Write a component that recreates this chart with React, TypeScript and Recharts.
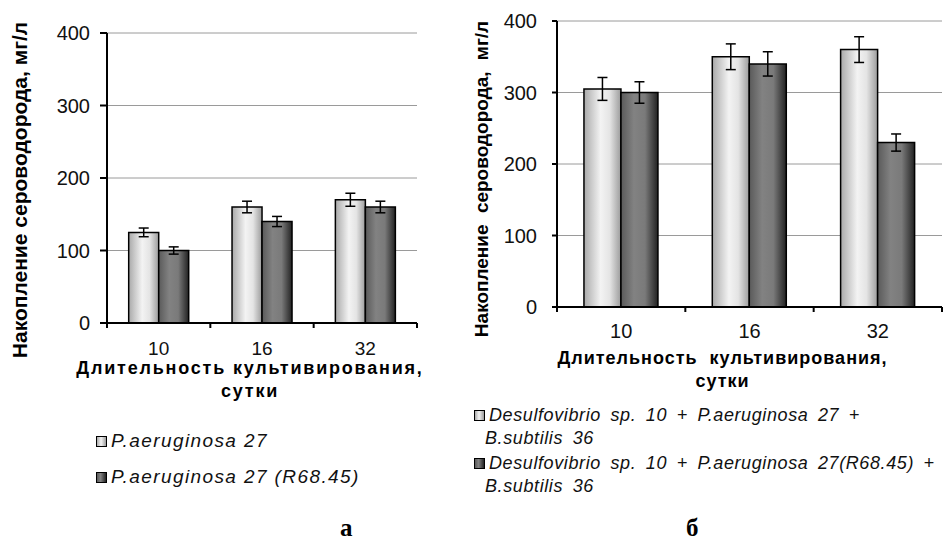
import React from 'react';
import { BarChart, Bar, XAxis, YAxis, CartesianGrid, ErrorBar, Label } from 'recharts';

const days = ['10', '16', '32'];
const yTicks = [0, 100, 200, 300, 400];

const leftNames = ['P.aeruginosa 27', 'P.aeruginosa 27 (R68.45)'];
const leftA = [125, 160, 170];
const leftAErr = [6, 8, 9];
const leftB = [100, 140, 160];
const leftBErr = [5, 7, 8];

const rightNames = [
  ['Desulfovibrio sp. 10 + P.aeruginosa 27 +', 'B.subtilis 36'],
  ['Desulfovibrio sp. 10 + P.aeruginosa 27(R68.45) +', 'B.subtilis 36'],
];
const rightA = [305, 350, 360];
const rightAErr = [16, 18, 18];
const rightB = [300, 340, 230];
const rightBErr = [15, 17, 12];

const yTitle = 'Накопление сероводорода, мг/л';
const xTitle1 = 'Длительность культивирования,';
const xTitle2 = 'сутки';
const captions = ['а', 'б'];

const leftData = days.map((d, i) => ({ day: d, a: leftA[i], ae: leftAErr[i], b: leftB[i], be: leftBErr[i] }));
const rightData = days.map((d, i) => ({ day: d, a: rightA[i], ae: rightAErr[i], b: rightB[i], be: rightBErr[i] }));

const FONT = '"Liberation Sans", Arial, sans-serif';

const Defs = ({ id }: { id: string }) => (
  <defs>
    <linearGradient id={`light-${id}`} x1="0" y1="0" x2="1" y2="0">
      <stop offset="0%" stopColor="#a9a9a9" />
      <stop offset="45%" stopColor="#f3f3f3" />
      <stop offset="70%" stopColor="#e4e4e4" />
      <stop offset="100%" stopColor="#9c9c9c" />
    </linearGradient>
    <linearGradient id={`dark-${id}`} x1="0" y1="0" x2="1" y2="0">
      <stop offset="0%" stopColor="#5a5a5a" />
      <stop offset="35%" stopColor="#828282" />
      <stop offset="65%" stopColor="#7a7a7a" />
      <stop offset="100%" stopColor="#222222" />
    </linearGradient>
  </defs>
);

const makeTick = (baselineDy: number, size: number) => (props: any) => {
  const { x, y, payload, index, width, visibleTicksCount } = props;
  const n = visibleTicksCount || 3;
  const bw = width / n;
  return (
    <g>
      <line x1={x - bw / 2} y1={y} x2={x - bw / 2} y2={y + 5} stroke="#000" strokeWidth={2} />
      {index === n - 1 && <line x1={x + bw / 2} y1={y} x2={x + bw / 2} y2={y + 5} stroke="#000" strokeWidth={2} />}
      <text x={x} y={y + baselineDy} textAnchor="middle" fontFamily={FONT} fontSize={size} fill="#111">
        {payload.value}
      </text>
    </g>
  );
};

const XTitle = (dx: number, d1: number, d2: number, letterSpacing: number, wordSpacing: number) => (props: any) => {
  const vb = props.viewBox || { x: 0, y: 0, width: 0 };
  const cx = vb.x + vb.width / 2 + dx;
  return (
    <text textAnchor="middle" fontFamily={FONT} fontSize={18} fontWeight="bold" fill="#000" letterSpacing={letterSpacing} wordSpacing={wordSpacing}>
      <tspan x={cx} y={vb.y + d1}>{xTitle1}</tspan>
      <tspan x={cx} y={vb.y + d2}>{xTitle2}</tspan>
    </text>
  );
};

const YTitle = (bx: number, cy: number, size: number, wordSpacing: number) => () => (
  <text
    transform={`translate(${bx},${cy}) rotate(-90)`}
    textAnchor="middle"
    fontFamily={FONT}
    fontSize={size}
    fontWeight="bold"
    fill="#000"
    wordSpacing={wordSpacing}
  >
    {yTitle}
  </text>
);

const LegendSwatch = ({ dark }: { dark: boolean }) => (
  <span
    style={{
      display: 'inline-block',
      width: 9,
      height: 9,
      border: '1.5px solid #000',
      background: dark
        ? 'linear-gradient(to right, #5a5a5a, #828282 40%, #222)'
        : 'linear-gradient(to right, #aaa, #f3f3f3 45%, #9c9c9c)',
      marginRight: 4,
      verticalAlign: 'baseline',
    }}
  />
);

export default function App() {
  return (
    <div style={{ position: 'absolute', left: 0, top: 0, width: 951, height: 546, background: '#fff', fontFamily: FONT }}>
      <div style={{ position: 'absolute', left: 0, top: 0 }}>
        <BarChart width={440} height={405} data={leftData} margin={{ top: 33, right: 23, left: 0, bottom: 0 }} barCategoryGap="21%" barGap={0}>
          <Defs id="l" />
          <CartesianGrid vertical={false} stroke="#9a9a9a" strokeWidth={1} />
          <XAxis
            dataKey="day"
            height={82}
            axisLine={{ stroke: '#000', strokeWidth: 2 }}
            tickLine={false}
            tickSize={0}
            tickMargin={0}
            tick={makeTick(32, 19)}
            interval={0}
          >
            <Label content={XTitle(-12, 51, 74, 1.8, 0)} />
          </XAxis>
          <YAxis
            width={107}
            domain={[0, 400]}
            ticks={yTicks}
            axisLine={{ stroke: '#000', strokeWidth: 2 }}
            tickLine={{ stroke: '#000', strokeWidth: 2 }}
            tickSize={7}
            tickMargin={10}
            tick={{ fontFamily: FONT, fontSize: 20, fill: '#111' }}
          >
            <Label content={YTitle(27, 190, 21, 0)} />
          </YAxis>
          <Bar dataKey="a" fill="url(#light-l)" stroke="#000" strokeWidth={1.5} isAnimationActive={false}>
            <ErrorBar dataKey="ae" width={5} stroke="#000" strokeWidth={1.5} />
          </Bar>
          <Bar dataKey="b" fill="url(#dark-l)" stroke="#000" strokeWidth={1.5} isAnimationActive={false}>
            <ErrorBar dataKey="be" width={5} stroke="#000" strokeWidth={1.5} />
          </Bar>
        </BarChart>
      </div>

      <div style={{ position: 'absolute', left: 440, top: 0 }}>
        <BarChart width={511} height={395} data={rightData} margin={{ top: 21, right: 9, left: 0, bottom: 0 }} barCategoryGap="21%" barGap={0}>
          <Defs id="r" />
          <CartesianGrid vertical={false} stroke="#9a9a9a" strokeWidth={1} />
          <XAxis
            dataKey="day"
            height={88}
            axisLine={{ stroke: '#000', strokeWidth: 2 }}
            tickLine={false}
            tickSize={0}
            tickMargin={0}
            tick={makeTick(31, 20)}
            interval={0}
          >
            <Label content={XTitle(-27, 57, 80, 1.0, 6)} />
          </XAxis>
          <YAxis
            width={117}
            domain={[0, 400]}
            ticks={yTicks}
            axisLine={{ stroke: '#000', strokeWidth: 2 }}
            tickLine={{ stroke: '#000', strokeWidth: 2 }}
            tickSize={5}
            tickMargin={15}
            tick={{ fontFamily: FONT, fontSize: 20, fill: '#111' }}
          >
            <Label content={YTitle(48, 179, 19, 6)} />
          </YAxis>
          <Bar dataKey="a" fill="url(#light-r)" stroke="#000" strokeWidth={1.5} isAnimationActive={false}>
            <ErrorBar dataKey="ae" width={5} stroke="#000" strokeWidth={1.5} />
          </Bar>
          <Bar dataKey="b" fill="url(#dark-r)" stroke="#000" strokeWidth={1.5} isAnimationActive={false}>
            <ErrorBar dataKey="be" width={5} stroke="#000" strokeWidth={1.5} />
          </Bar>
        </BarChart>
      </div>

      {leftNames.map((n, i) => (
        <div
          key={n}
          style={{ position: 'absolute', left: 96, top: 431 + i * 36, fontSize: 19, fontStyle: 'italic', letterSpacing: 1.4, lineHeight: '20px', whiteSpace: 'nowrap', color: '#111' }}
        >
          <LegendSwatch dark={i === 1} />
          {n}
        </div>
      ))}

      {rightNames.map((lines, i) => (
        <div
          key={i}
          style={{ position: 'absolute', left: 474, top: 404 + i * 48, fontSize: 18, fontStyle: 'italic', letterSpacing: 0.6, lineHeight: '23px', whiteSpace: 'nowrap', color: '#111', wordSpacing: 4 }}
        >
          <div>
            <LegendSwatch dark={i === 1} />
            {lines[0]}
          </div>
          <div style={{ paddingLeft: 11 }}>{lines[1]}</div>
        </div>
      ))}

      <div style={{ position: 'absolute', left: 340, top: 514, fontFamily: '"Liberation Serif", "Times New Roman", serif', fontWeight: 'bold', fontSize: 25 }}>
        {captions[0]}
      </div>
      <div style={{ position: 'absolute', left: 686, top: 514, fontFamily: '"Liberation Serif", "Times New Roman", serif', fontWeight: 'bold', fontSize: 25 }}>
        {captions[1]}
      </div>
    </div>
  );
}
